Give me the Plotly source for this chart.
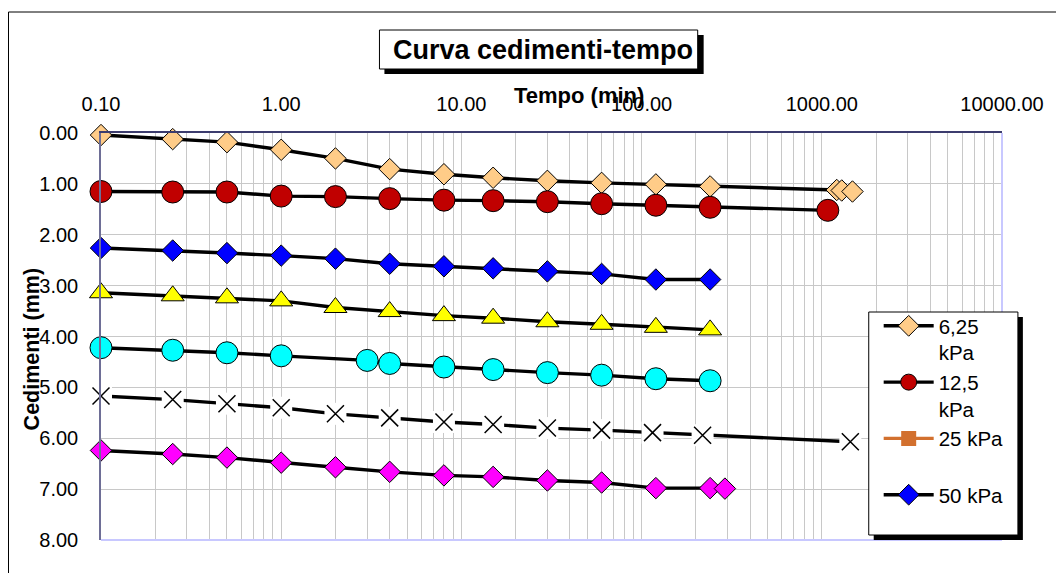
import plotly.graph_objects as go

# ---------------- data ----------------
t_625 = [0.1, 0.25, 0.5, 1, 2, 4, 8, 15, 30, 60, 120, 240, 1210, 1290, 1480]
s_625 = [0.04, 0.12, 0.18, 0.33, 0.50, 0.71, 0.81, 0.88, 0.94, 0.98, 1.01, 1.05, 1.12, 1.13, 1.15]

t_125 = [0.1, 0.25, 0.5, 1, 2, 4, 8, 15, 30, 60, 120, 240, 1080]
s_125 = [1.15, 1.16, 1.16, 1.24, 1.25, 1.29, 1.32, 1.33, 1.35, 1.39, 1.42, 1.46, 1.52]

t_50 = [0.1, 0.25, 0.5, 1, 2, 4, 8, 15, 30, 60, 120, 240]
s_50 = [2.26, 2.31, 2.36, 2.41, 2.47, 2.57, 2.62, 2.66, 2.72, 2.77, 2.88, 2.88]

t_100 = [0.1, 0.25, 0.5, 1, 2, 4, 8, 15, 30, 60, 120, 240]
s_100 = [3.14, 3.20, 3.24, 3.30, 3.43, 3.51, 3.59, 3.64, 3.71, 3.76, 3.82, 3.87]

t_200 = [0.1, 0.25, 0.5, 1, 3, 4, 8, 15, 30, 60, 120, 240]
s_200 = [4.22, 4.27, 4.32, 4.38, 4.47, 4.53, 4.60, 4.65, 4.71, 4.76, 4.83, 4.87]

t_400 = [0.1, 0.25, 0.5, 1, 2, 4, 8, 15, 30, 60, 115, 218, 1440]
s_400 = [5.17, 5.24, 5.32, 5.40, 5.52, 5.60, 5.68, 5.73, 5.80, 5.84, 5.89, 5.94, 6.07]

t_800 = [0.1, 0.25, 0.5, 1, 2, 4, 8, 15, 30, 60, 120, 240, 290]
s_800 = [6.24, 6.31, 6.38, 6.48, 6.57, 6.66, 6.73, 6.76, 6.83, 6.87, 6.98, 6.98, 6.99]

legend_names = ["6,25<br>kPa", "12,5<br>kPa", "25 kPa<br>&nbsp;", "50 kPa<br>&nbsp;"]
hidden_names = ["100 kPa", "200 kPa", "400 kPa", "800 kPa"]

title_text = "Curva cedimenti-tempo"
x_title = "Tempo (min)"
y_title = "Cedimenti (mm)"

# ---------------- geometry helpers (pixels -> paper) ----------------
W, H = 1056, 573
L, R, T, B = 101, 1007, 133, 540


def px(x):
    return (x - L) / (R - L)


def py(y):
    return (B - y) / (B - T)


FONT = "Arial, Liberation Sans, sans-serif"
LINE_W = 3.4

fig = go.Figure()


def series(t, s, name, symbol, size, color, show=True):
    fig.add_trace(go.Scatter(
        x=t, y=s, name=name, mode="lines+markers",
        line=dict(color="black", width=LINE_W),
        marker=dict(symbol=symbol, size=size, color=color,
                    line=dict(color="black", width=1)),
        cliponaxis=False, showlegend=show,
    ))


series(t_625, s_625, legend_names[0], "diamond", 16.5, "#FFCC88")
series(t_125, s_125, legend_names[1], "circle", 22, "#C00000")
# 25 kPa: present only in the legend
fig.add_trace(go.Scatter(
    x=[None], y=[None], name=legend_names[2], mode="lines+markers",
    line=dict(color="#D2702E", width=LINE_W),
    marker=dict(symbol="square", size=15, color="#D2702E"),
))
series(t_50, s_50, legend_names[3], "diamond", 16.5, "#0000FF")
series(t_100, s_100, hidden_names[0], "triangle-up", 20, "#FFFF00", show=False)
series(t_200, s_200, hidden_names[1], "circle", 22, "#00FFFF", show=False)
# X series: line broken by a white backing under each cross
fig.add_trace(go.Scatter(
    x=t_400, y=s_400, name=hidden_names[2], mode="lines+markers",
    line=dict(color="black", width=LINE_W),
    marker=dict(symbol="square", size=22, color="white", line=dict(width=0)),
    cliponaxis=False, showlegend=False,
))
fig.add_trace(go.Scatter(
    x=t_400, y=s_400, name=hidden_names[2], mode="markers",
    marker=dict(symbol="x-thin", size=17, color="black",
                line=dict(color="black", width=1.5)),
    cliponaxis=False, showlegend=False,
))
series(t_800, s_800, hidden_names[3], "diamond", 16.5, "#FF00FF", show=False)

GRID = "#C8C8C8"

shapes = [
    # outer chart border
    dict(type="rect", xref="paper", yref="paper", x0=px(8), y0=py(12), x1=px(1070), y1=py(590),
         line=dict(color="black", width=1), fillcolor="rgba(0,0,0,0)", layer="below"),
    # right & bottom plot border
    dict(type="line", xref="paper", yref="paper", x0=1, x1=1, y0=0, y1=1,
         line=dict(color="#C8C8FF", width=2)),
    dict(type="line", xref="paper", yref="paper", x0=0, x1=1, y0=0, y1=0,
         line=dict(color="#C8C8FF", width=2)),
    # title box shadow + box
    dict(type="rect", xref="paper", yref="paper", x0=px(386), y0=py(74), x1=px(707), y1=py(35),
         line=dict(width=0), fillcolor="black", layer="above"),
    dict(type="rect", xref="paper", yref="paper", x0=px(381), y0=py(69), x1=px(701), y1=py(30),
         line=dict(color="black", width=1), fillcolor="white", layer="above"),
    # legend box shadow + box
    dict(type="rect", xref="paper", yref="paper", x0=px(878), y0=py(540), x1=px(1028), y1=py(317),
         line=dict(width=0), fillcolor="black", layer="above"),
    dict(type="rect", xref="paper", yref="paper", x0=px(873), y0=py(535), x1=px(1023), y1=py(312),
         line=dict(color="black", width=1), fillcolor="white", layer="above"),
]

annotations = [
    dict(text="<b>" + title_text + "</b>", xref="paper", yref="paper", x=px(545), y=py(50),
         showarrow=False, font=dict(family=FONT, size=27, color="black"),
         xanchor="center", yanchor="middle"),
    dict(text="<b>" + x_title + "</b>", xref="paper", yref="paper", x=px(582), y=py(95),
         showarrow=False, font=dict(family=FONT, size=22, color="black"),
         xanchor="center", yanchor="middle"),
    dict(text="<b>" + y_title + "</b>", xref="paper", yref="paper", x=px(32), y=py(349),
         showarrow=False, textangle=-90, font=dict(family=FONT, size=21.5, color="black"),
         xanchor="center", yanchor="middle"),
]

fig.update_layout(
    width=W, height=H,
    margin=dict(l=L, r=W - R, t=T, b=H - B, pad=0),
    paper_bgcolor="white", plot_bgcolor="white",
    font=dict(family=FONT, color="black"),
    shapes=shapes, annotations=annotations,
    legend=dict(
        x=px(883), y=py(306), xanchor="left", yanchor="top",
        bgcolor="rgba(0,0,0,0)", borderwidth=0,
        font=dict(family=FONT, size=20.5, color="black"),
        valign="top", tracegroupgap=0, itemwidth=50,
    ),
    xaxis=dict(
        type="log", range=[-1, 4], side="top", dtick=1, tickformat=".2f",
        tickfont=dict(family=FONT, size=20, color="black"),
        ticks="outside", ticklen=12, tickcolor="rgba(0,0,0,0)",
        showline=True, linecolor="#3C3C6E", linewidth=1.5,
        showgrid=True, gridcolor=GRID, gridwidth=1, zeroline=False,
        minor=dict(dtick="D1", showgrid=True, gridcolor=GRID, gridwidth=1, ticks=""),
    ),
    yaxis=dict(
        range=[8, 0], dtick=1, tickformat=".2f",
        tickfont=dict(family=FONT, size=20, color="black"),
        ticks="outside", ticklen=17, tickcolor="rgba(0,0,0,0)",
        showline=True, linecolor="#6E6E96", linewidth=1.5,
        showgrid=True, gridcolor=GRID, gridwidth=1, zeroline=False,
    ),
)

fig.write_html("out.html")
